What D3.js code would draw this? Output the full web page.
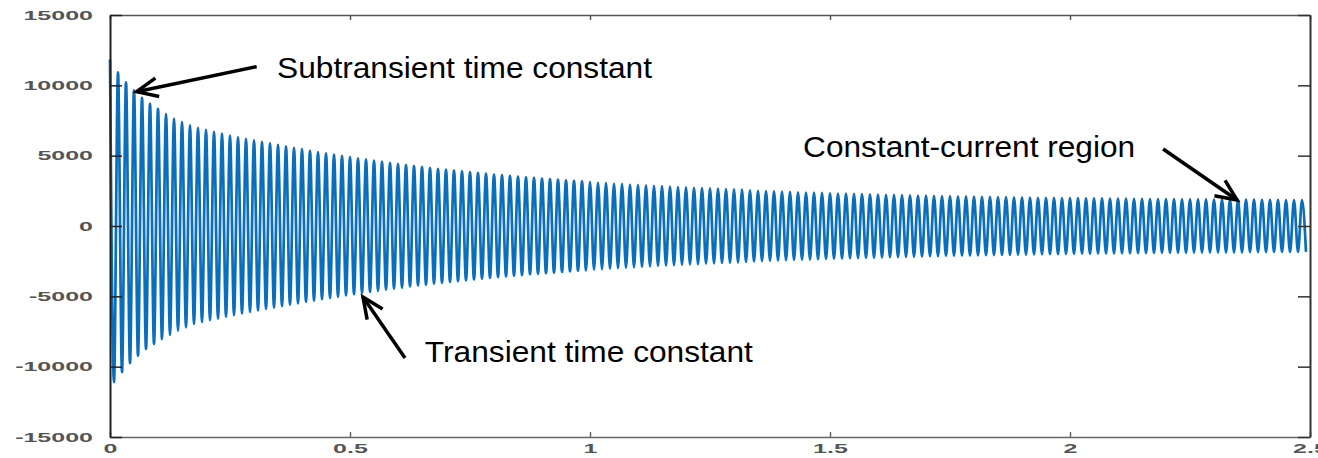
<!DOCTYPE html>
<html>
<head>
<meta charset="utf-8">
<script src="https://cdn.jsdelivr.net/npm/d3@7"></script>
<style>
  body { margin: 0; background: #fff; }
  svg { display: block; }
</style>
</head>
<body>
<script>
const xTicks = [0, 0.5, 1, 1.5, 2, 2.5]
const yTicks = [-15000, -10000, -5000, 0, 5000, 10000, 15000]
const cycleFreq = 60 // one upper and one lower peak per cycle

// positive peak of each cycle
const upperPeaks = [
  11830, 10930, 10220, 9650, 9110, 8690, 8330, 7980, 7640, 7410,
  7150, 6980, 6840, 6700, 6560, 6430, 6310, 6200, 6090, 5980,
  5870, 5770, 5660, 5560, 5460, 5360, 5260, 5170, 5080, 4990,
  4900, 4810, 4730, 4650, 4570, 4490, 4420, 4340, 4270, 4200,
  4140, 4070, 4010, 3950, 3890, 3830, 3770, 3720, 3660, 3610,
  3560, 3510, 3460, 3420, 3370, 3330, 3290, 3250, 3210, 3170,
  3130, 3090, 3060, 3020, 2990, 2950, 2920, 2890, 2860, 2830,
  2800, 2770, 2750, 2720, 2690, 2670, 2650, 2620, 2600, 2580,
  2530, 2500, 2480, 2460, 2440, 2420, 2400, 2380, 2370, 2350,
  2330, 2310, 2300, 2280, 2270, 2250, 2240, 2220, 2210, 2200,
  2180, 2170, 2160, 2140, 2130, 2120, 2110, 2100, 2090, 2080,
  2070, 2060, 2050, 2040, 2030, 2020, 2010, 2010, 2000, 1990,
  1980, 1980, 1970, 1960, 1960, 1950, 1940, 1940, 1930, 1930,
  1920, 1920, 1910, 1910, 1900, 1900, 1890, 1890, 1880, 1880,
  1880, 1870, 1870, 1870, 1860, 1860, 1860, 1850, 1850, 1850
]

// negative peak half a cycle later
const lowerPeaks = [
  -11100, -10390, -9750, -9210, -8740, -8380, -8030, -7740, -7440, -7200,
  -6960, -6830, -6700, -6580, -6450, -6330, -6220, -6110, -6000, -5900,
  -5800, -5700, -5600, -5500, -5400, -5300, -5200, -5120, -5030, -4940,
  -4850, -4770, -4690, -4610, -4530, -4450, -4380, -4300, -4230, -4170,
  -4100, -4040, -3980, -3920, -3860, -3800, -3740, -3690, -3640, -3580,
  -3530, -3490, -3440, -3400, -3350, -3310, -3270, -3230, -3190, -3150,
  -3110, -3070, -3040, -3000, -2970, -2940, -2900, -2870, -2840, -2810,
  -2790, -2760, -2730, -2710, -2680, -2660, -2630, -2610, -2590, -2560,
  -2520, -2490, -2470, -2450, -2430, -2410, -2390, -2380, -2360, -2340,
  -2320, -2310, -2290, -2280, -2260, -2250, -2230, -2220, -2210, -2190,
  -2180, -2160, -2150, -2140, -2130, -2120, -2110, -2100, -2090, -2080,
  -2070, -2060, -2050, -2040, -2030, -2020, -2010, -2000, -2000, -1990,
  -1980, -1970, -1970, -1960, -1950, -1950, -1940, -1940, -1930, -1930,
  -1920, -1910, -1910, -1900, -1900, -1890, -1890, -1880, -1880, -1880,
  -1870, -1870, -1860, -1860, -1860, -1850, -1850, -1850, -1850, -1840
]

const noteTexts = ['Subtransient time constant', 'Constant-current region', 'Transient time constant']
const noteTips = [[0.0556, 9550], [2.348, 1850], [0.527, -5050]]
const noteTails = [[0.3056, 11330], [2.194, 5470], [0.6146, -9380]]
const noteLabels = [[0.348, 10520], [1.444, 4930], [0.656, -9650]]
const noteWidths = [375, 332, 328]

const width = 1318, height = 458

const svg = d3.select('body').append('svg')
  .attr('width', width)
  .attr('height', height)

const x = d3.scaleLinear().domain([0, 2.5]).range([110, 1310])
const y = d3.scaleLinear().domain([-15000, 15000]).range([437, 15])

const wave = []
upperPeaks.forEach((v, k) => {
  wave.push({t: k / cycleFreq, v: v})
  wave.push({t: (k + 0.5) / cycleFreq, v: lowerPeaks[k]})
})

const line = d3.line()
  .x(d => x(d.t))
  .y(d => y(d.v))
  .curve(d3.curveMonotoneX)

svg.append('path')
  .datum(wave)
  .attr('fill', 'none')
  .attr('stroke', '#0a6ebd')
  .attr('stroke-width', 2.7)
  .attr('d', line)

// axes, MATLAB style box with inward ticks
const fmt = d => String(d)
const stretch = sel => sel.selectAll('text').each(function () {
  const len = this.getComputedTextLength()
  d3.select(this).attr('textLength', len * 2).attr('lengthAdjust', 'spacingAndGlyphs')
})

const styleAxis = (g, col, w) => {
  g.select('.domain').attr('stroke', col).attr('stroke-width', w)
  g.selectAll('.tick line').attr('stroke', col).attr('stroke-width', 1.5)
  g.selectAll('.tick text')
    .attr('fill', '#555')
    .attr('font-family', 'Liberation Sans, Arial, sans-serif')
    .attr('font-weight', 'bold')
    .attr('font-size', 12.5)
}

const xAxisBottom = svg.append('g')
  .attr('transform', `translate(0,${y(-15000)})`)
  .call(d3.axisBottom(x).tickValues(xTicks).tickFormat(fmt).tickSizeInner(-5).tickSizeOuter(0).tickPadding(7))
styleAxis(xAxisBottom, '#666', 1.5)
stretch(xAxisBottom)

const xAxisTop = svg.append('g')
  .attr('transform', `translate(0,${y(15000)})`)
  .call(d3.axisTop(x).tickValues(xTicks).tickFormat('').tickSizeInner(-5).tickSizeOuter(0))
styleAxis(xAxisTop, '#555', 1.5)

const yAxisLeft = svg.append('g')
  .attr('transform', `translate(${x(0)},0)`)
  .call(d3.axisLeft(y).tickValues(yTicks).tickFormat(fmt).tickSizeInner(-12).tickSizeOuter(0).tickPadding(17))
styleAxis(yAxisLeft, '#222', 2)
stretch(yAxisLeft)

const yAxisRight = svg.append('g')
  .attr('transform', `translate(${x(2.5)},0)`)
  .call(d3.axisRight(y).tickValues(yTicks).tickFormat('').tickSizeInner(-12).tickSizeOuter(0))
styleAxis(yAxisRight, '#333', 2)

// annotations
const notes = svg.append('g')

noteTexts.forEach((txt, i) => {
  const [x1, y1] = [x(noteTails[i][0]), y(noteTails[i][1])]
  const [x2, y2] = [x(noteTips[i][0]), y(noteTips[i][1])]
  const a = Math.atan2(y1 - y2, x1 - x2)
  const len = 23, spread = 0.42
  const barb1 = [x2 + len * Math.cos(a + spread), y2 + len * Math.sin(a + spread)]
  const barb2 = [x2 + len * Math.cos(a - spread), y2 + len * Math.sin(a - spread)]

  notes.append('path')
    .attr('d', d3.line()([[x1, y1], [x2, y2]]))
    .attr('stroke', '#000')
    .attr('stroke-width', 3.5)
    .attr('fill', 'none')

  notes.append('path')
    .attr('d', d3.line()([barb1, [x2, y2], barb2]))
    .attr('stroke', '#000')
    .attr('stroke-width', 3.5)
    .attr('stroke-linejoin', 'miter')
    .attr('fill', 'none')

  notes.append('text')
    .attr('x', x(noteLabels[i][0]))
    .attr('y', y(noteLabels[i][1]))
    .attr('font-family', 'Liberation Sans, Arial, sans-serif')
    .attr('font-size', 29)
    .attr('fill', '#000')
    .attr('textLength', noteWidths[i])
    .attr('lengthAdjust', 'spacingAndGlyphs')
    .text(txt)
})
</script>
</body>
</html>
